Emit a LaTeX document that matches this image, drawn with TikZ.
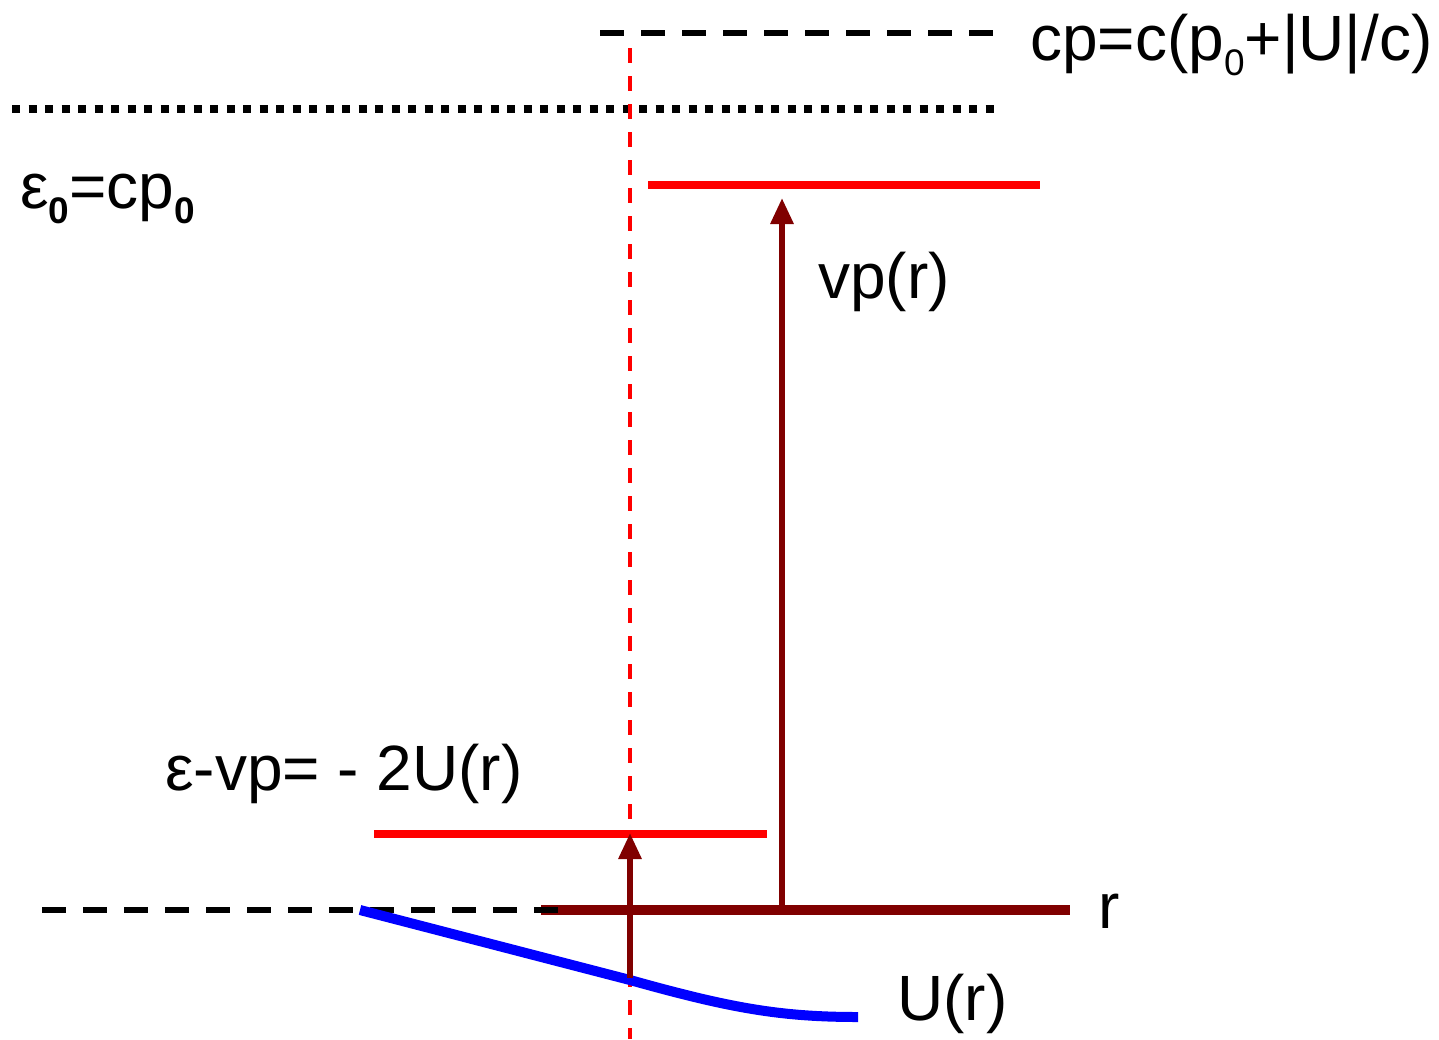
\documentclass[tikz,border=0pt]{standalone}
\usepackage{fontspec}
\setmainfont{Liberation Sans}
\usetikzlibrary{arrows.meta}
\definecolor{levelred}{HTML}{FF0000}
\definecolor{darkred}{HTML}{800000}
\definecolor{curveblue}{HTML}{0000FF}
\newcommand{\lowidx}[1]{\raisebox{-15pt}{\fontsize{37}{37}\selectfont #1}}

\begin{document}
\begin{tikzpicture}[
    x=1pt, y=-1pt,
    >={Triangle[length=26pt,width=22pt]},
    eqlabel/.style={anchor=base west, inner sep=0pt, font=\fontsize{64}{72}\selectfont},
    blackdash/.style={draw=black, line width=6pt, dash pattern=on 24pt off 17pt},
    dotline/.style={draw=black, line width=8pt, dash pattern=on 8pt off 8.5pt},
    guide/.style={draw=levelred, line width=3.5pt, dash pattern=on 15pt off 13pt},
    level/.style={draw=levelred, line width=8pt},
    axis/.style={draw=darkred, line width=10pt},
    shiftarrow/.style={draw=darkred, line width=6pt, ->},
    potential/.style={draw=curveblue, line width=10pt}
]
  \useasboundingbox (0,0) rectangle (1439,1039);

  % Reference levels
  \coordinate (cpL) at (600,33);
  \coordinate (cpR) at (995,33);
  \coordinate (eL)  at (12,109);
  \coordinate (eR)  at (995,109);
  \coordinate (zL)  at (42,910);
  \coordinate (zR)  at (567,910);
  \draw[dotline] (eL) -- (eR);
  \draw[blackdash] (cpL) -- (cpR);

  % Vertical guide
  \coordinate (gTop) at (630,48);
  \coordinate (gBot) at (630,1039);
  \draw[guide] (gTop) -- (gBot);

  % r axis and potential
  \coordinate (rL) at (541,910);
  \coordinate (rR) at (1070,910);
  \draw[axis] (rL) -- (rR);
  \draw[blackdash] (zL) -- (zR);
  \coordinate (u0) at (360,910);
  \coordinate (u1) at (630,980);
  \coordinate (u2) at (858,1017);
  \draw[potential] (u0) -- (u1) .. controls (730,1008) and (780,1017) .. (u2);

  % Energy levels
  \coordinate (hiL) at (648,185);
  \coordinate (hiR) at (1040,185);
  \coordinate (loL) at (374,834);
  \coordinate (loR) at (767,834);
  \draw[level] (hiL) -- (hiR);
  \draw[level] (loL) -- (loR);

  % Arrows
  \coordinate (vpFoot) at (782,910);
  \coordinate (vpTip)  at (782,198);
  \coordinate (epsFoot) at (630,978);
  \coordinate (epsTip)  at (630,833);
  \draw[shiftarrow] (vpFoot) -- (vpTip);
  \draw[shiftarrow] (epsFoot) -- (epsTip);

  % Labels
  \node[eqlabel] (cpLabel)  at (1030,60)  {cp=c(p\lowidx{0}+|U|/c)};
  \node[eqlabel] (e0Label)  at (20,208)   {ε\lowidx{\textbf{0}}=cp\lowidx{\textbf{0}}};
  \node[eqlabel] (vpLabel)  at (818,298)  {vp(r)};
  \node[eqlabel] (epsLabel) at (165,790)  {ε-vp= - 2U(r)};
  \node[eqlabel] (rLabel)   at (1098,928) {r};
  \node[eqlabel] (uLabel)   at (897,1020) {U(r)};
\end{tikzpicture}
\end{document}
